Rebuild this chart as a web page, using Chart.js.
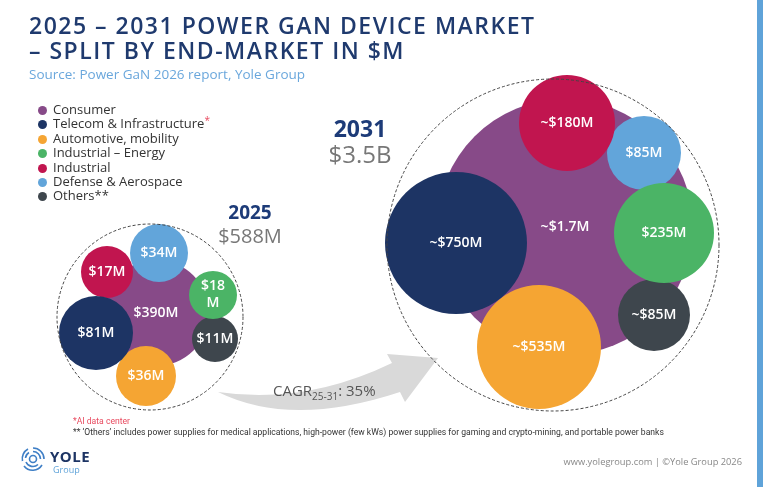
<!DOCTYPE html>
<html>
<head>
<meta charset="utf-8">
<script src="https://cdn.jsdelivr.net/npm/chart.js@4.4.1/dist/chart.umd.min.js"></script>
<style>
  html, body { margin: 0; padding: 0; background: #fff; }
  .container { position: relative; width: 763px; height: 487px; overflow: hidden; font-family: "Open Sans", sans-serif; }
  .chart-wrap { position: absolute; left: 0; top: 0; width: 763px; height: 487px; }
  .title { position: absolute; left: 29px; top: 13px; color: #1f3a6e; font-size: 23px; font-weight: 600; letter-spacing: 1.5px; line-height: 25px; white-space: nowrap; }
  .source { position: absolute; left: 29px; top: 65px; color: #6aa7dc; font-size: 13.5px; white-space: nowrap; }
  .legend { position: absolute; left: 38px; top: 102px; font-size: 13px; color: #333; line-height: 14.4px; }
  .legend div { white-space: nowrap; }
  .legend span.dot { display: inline-block; width: 9px; height: 9px; border-radius: 50%; margin-right: 6px; vertical-align: -1px; }
  .legend sup { font-size: 10px; line-height: 0; vertical-align: 4px; }
  .legend sup, .red { color: #e84a5f; }
  .year { position: absolute; text-align: center; width: 120px; line-height: 1; }
  .year b { display: block; color: #1d3b78; font-weight: 700; }
  .year span { display: block; color: #777; }
  .cagr { position: absolute; left: 273px; top: 380px; color: #555; font-size: 15px; white-space: nowrap; }
  .cagr sub { font-size: 10px; }
  .notes { position: absolute; left: 73px; top: 416px; font-family: "Roboto", sans-serif; font-size: 8.6px; color: #333; line-height: 11px; white-space: nowrap; }
  .logo { position: absolute; left: 20px; top: 446px; }
  .logo-text { position: absolute; left: 50px; top: 449px; color: #1d3464; font-weight: 700; font-size: 15px; line-height: 1; letter-spacing: 0.5px; }
  .logo-text span { display: block; color: #5fa3d9; font-size: 9px; font-weight: 400; letter-spacing: 0; margin-left: 3px; margin-top: 1px; }
  .copy { position: absolute; right: 21px; top: 455px; color: #888; font-size: 9.3px; white-space: nowrap; }
  .strip { position: absolute; right: 0; top: 0; width: 6px; height: 487px; background: #5fa3d9; }
</style>
</head>
<body>
<div class="container">
  <div class="chart-wrap"><canvas id="marketChart"></canvas></div>
  <div class="title">2025 – 2031 POWER GAN DEVICE MARKET<br>– SPLIT BY END-MARKET IN $M</div>
  <div class="source">Source: Power GaN 2026 report, Yole Group</div>
  <div class="legend" id="legend"></div>
  <div class="year" style="left:190px; top:203px;"><b style="font-size:19px;">2025</b><span style="font-size:20px; margin-top:4px;">$588M</span></div>
  <div class="year" style="left:300px; top:117px;"><b style="font-size:23px;">2031</b><span style="font-size:24px; margin-top:2px;">$3.5B</span></div>
  <div class="cagr">CAGR<sub>25-31</sub>: 35%</div>
  <div class="notes"><span class="red">*AI data center</span><br>** ‘Others’ includes power supplies for medical applications, high-power (few kWs) power supplies for gaming and crypto-mining, and portable power banks</div>
  <svg class="logo" width="26" height="26" viewBox="0 0 26 26">
    <g fill="none" stroke="#3f7fc6" stroke-width="1.6">
      <path d="M13 2 A11 11 0 0 1 24 13"/>
      <path d="M22 19 A11 11 0 0 1 4 20"/>
      <path d="M2.5 15 A11 11 0 0 1 8 3"/>
      <path d="M13 5.5 A7.5 7.5 0 0 1 20.5 13"/>
      <path d="M18 18.5 A7.5 7.5 0 0 1 6 16"/>
      <path d="M5.5 12 A7.5 7.5 0 0 1 9 6.5"/>
      <circle cx="13" cy="13" r="3.5"/>
    </g>
  </svg>
  <div class="logo-text">YOLE<span>Group</span></div>
  <div class="copy">www.yolegroup.com | ©Yole Group 2026</div>
  <div class="strip"></div>
</div>
<script>
// End-markets and their colours
const categories = ['Consumer', 'Telecom & Infrastructure', 'Automotive, mobility', 'Industrial – Energy', 'Industrial', 'Defense & Aerospace', 'Others**'];
const colors = ['#874a88', '#1d3464', '#f5a533', '#4bb466', '#c1154f', '#62a5da', '#3e464d'];

// Market size per end-market ($M)
const values2025 = [390, 81, 36, 18, 17, 34, 11];
const values2031 = [1700, 750, 535, 235, 180, 85, 85];
const labels2025 = ['$390M', '$81M', '$36M', '$18\nM', '$17M', '$34M', '$11M'];
const labels2031 = ['~$1.7M', '~$750M', '~$535M', '$235M', '~$180M', '$85M', '~$85M'];

// Packed-bubble layout (axis units, same size as the page), [x, y, r]
const layout2025 = [[156, 313, 53], [96, 333, 37], [146, 376, 30], [213, 295, 24], [107, 272, 26], [159, 253, 29], [215, 339, 23]];
const layout2031 = [[565, 227, 128], [456, 243, 71], [539, 347, 62], [664, 233, 50], [567, 123, 48], [644, 153, 37], [654, 315, 36]];
const groupRings = [[150, 317, 93], [553, 245, 166]];

// build legend
let legendEl = document.getElementById('legend');
categories.forEach((c, i) => {
  let row = document.createElement('div');
  let label = c === 'Telecom & Infrastructure' ? c + '<sup>*</sup>' : c;
  row.innerHTML = '<span class="dot" style="background:' + colors[i] + '"></span>' + label;
  legendEl.appendChild(row);
});

const datasets = categories.map((c, i) => ({
  label: c,
  data: [
    { x: layout2025[i][0], y: layout2025[i][1], r: layout2025[i][2], v: values2025[i], t: labels2025[i] },
    { x: layout2031[i][0], y: layout2031[i][1], r: layout2031[i][2], v: values2031[i], t: labels2031[i] }
  ],
  backgroundColor: colors[i],
  borderWidth: 0,
  hoverRadius: 0,
  order: i === 0 ? 1 : 0
}));

// growth arrow under the bubbles, dashed rings and value labels over them
const backdrop = {
  id: 'backdrop',
  beforeDatasetsDraw(chart) {
    const { ctx, scales: { x, y } } = chart;
    const px = v => x.getPixelForValue(v), py = v => y.getPixelForValue(v);

    ctx.save();
    ctx.fillStyle = '#d9d9d9';
    ctx.beginPath();
    ctx.moveTo(px(218), py(392));
    ctx.quadraticCurveTo(px(305), py(405), px(392), py(363));
    ctx.lineTo(px(387), py(354));
    ctx.lineTo(px(438), py(358));
    ctx.lineTo(px(405), py(402));
    ctx.lineTo(px(400), py(392));
    ctx.quadraticCurveTo(px(291), py(428), px(218), py(392));
    ctx.closePath();
    ctx.fill();
    ctx.restore();
  },
  afterDatasetsDraw(chart) {
    const { ctx, scales: { x, y } } = chart;
    ctx.save();
    ctx.strokeStyle = '#444';
    ctx.lineWidth = 1;
    ctx.setLineDash([3, 2]);
    groupRings.forEach(g => {
      let r = x.getPixelForValue(g[2]) - x.getPixelForValue(0);
      ctx.beginPath();
      ctx.arc(x.getPixelForValue(g[0]), y.getPixelForValue(g[1]), r, 0, Math.PI * 2);
      ctx.stroke();
    });
    ctx.restore();

    ctx.save();
    ctx.fillStyle = '#fff';
    ctx.font = '600 14px "Open Sans", sans-serif';
    ctx.textAlign = 'center';
    ctx.textBaseline = 'middle';
    chart.data.datasets.forEach((ds, di) => {
      chart.getDatasetMeta(di).data.forEach((el, i) => {
        let lines = ds.data[i].t.split('\n');
        lines.forEach((ln, k) => {
          ctx.fillText(ln, el.x, el.y + (k - (lines.length - 1) / 2) * 17);
        });
      });
    });
    ctx.restore();
  }
};

new Chart(document.getElementById('marketChart'), {
  type: 'bubble',
  data: { datasets: datasets },
  options: {
    responsive: true,
    maintainAspectRatio: false,
    animation: false,
    layout: { padding: 0, autoPadding: false },
    plugins: { legend: { display: false }, tooltip: { enabled: false } },
    scales: {
      x: { type: 'linear', min: 0, max: 763, display: false },
      y: { type: 'linear', min: 0, max: 487, reverse: true, display: false }
    }
  },
  plugins: [backdrop]
});
</script>
</body>
</html>
